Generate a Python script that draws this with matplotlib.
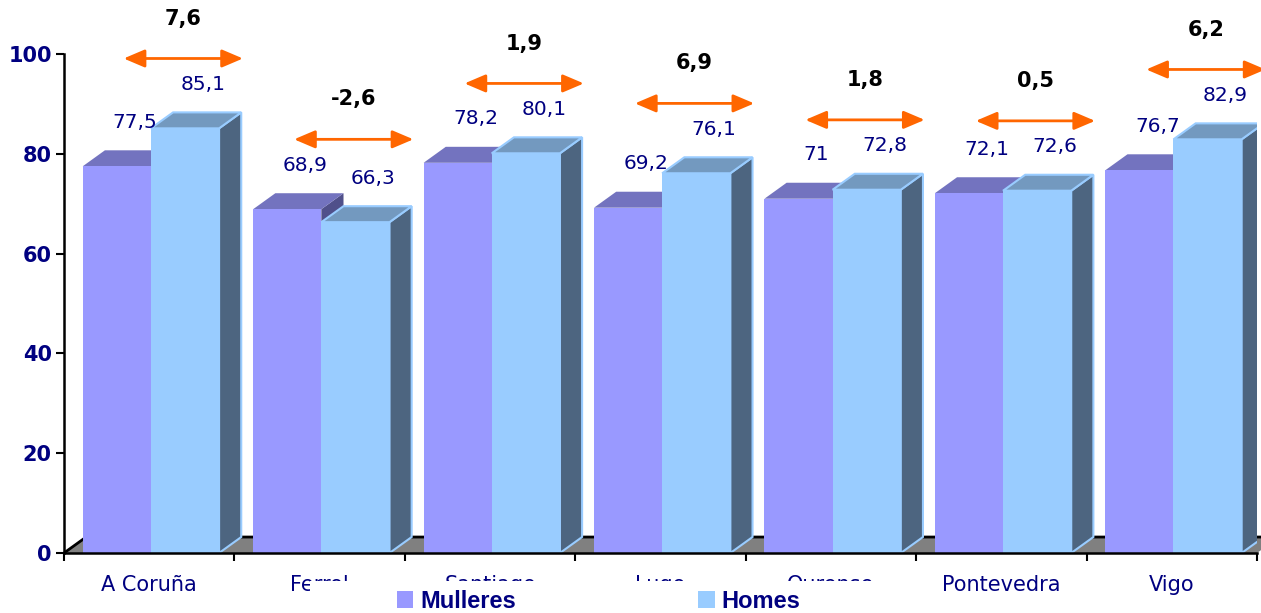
import numpy as np
import matplotlib.pyplot as plt
from matplotlib.patches import Polygon, Rectangle, FancyArrowPatch

# ----------------------
# Datos
# ----------------------
cidades = ["A Coruña", "Ferrol", "Santiago", "Lugo", "Ourense", "Pontevedra", "Vigo"]
mulleres = [77.5, 68.9, 78.2, 69.2, 71, 72.1, 76.7]
homes = [85.1, 66.3, 80.1, 76.1, 72.8, 72.6, 82.9]
yticks = [0, 20, 40, 60, 80, 100]


def fmt(v):
    return f"{round(v, 1):g}".replace(".", ",")


W, H = 1261, 613
fig = plt.figure(figsize=(W / 100, H / 100), dpi=100)
ax = fig.add_axes([64 / W, 60 / H, 1193 / W, 499 / H])
ax.set_xlim(-0.5, len(cidades) - 0.5)
ax.set_ylim(0, 100)

navy = "#000080"
dx, dy = 0.13, 3.2   # profundidade do efecto 3D
bw = 0.40
x = np.arange(len(cidades))
xm = x - 0.19
xh = x + 0.21

# ----------------------
# Chan gris
# ----------------------
x_end = len(cidades) - 0.5
ax.add_patch(Polygon([(-0.5, 0), (x_end, 0), (x_end + dx, dy), (-0.5 + dx, dy)],
                     closed=True, fc="#808080", ec="none", zorder=1, clip_on=False))
ax.plot([-0.5, -0.5 + dx, x_end + dx], [0, dy, dy], color="black", lw=2,
        zorder=1.1, clip_on=False, solid_capstyle="butt")


# ----------------------
# Barras 3D
# ----------------------
def caras(xc, v, top, side, edge, lw, z):
    x0, x1 = xc - bw / 2, xc + bw / 2
    ax.add_patch(Polygon([(x1, 0), (x1 + dx, dy), (x1 + dx, v + dy), (x1, v)],
                         fc=side, ec=edge, lw=lw, zorder=z, joinstyle="miter"))
    ax.add_patch(Polygon([(x0, v), (x1, v), (x1 + dx, v + dy), (x0 + dx, v + dy)],
                         fc=top, ec=edge, lw=lw, zorder=z + 0.1, joinstyle="miter"))


for i in range(len(cidades)):
    caras(xm[i], mulleres[i], "#7373BF", "#50508A", "none", 0, 2)
    caras(xh[i], homes[i], "#7399BF", "#4D6580", "#99CCFF", 1.5, 3)

bm = ax.bar(xm, mulleres, bw, color="#9999FF", linewidth=0, zorder=2.3, label="Mulleres")
bh = ax.bar(xh, homes, bw, color="#99CCFF", linewidth=0, zorder=3.3, label="Homes")

# Etiquetas de valores
for i in range(len(cidades)):
    ax.text(xm[i] + 0.105, mulleres[i] + 8.8, fmt(mulleres[i]), ha="center", va="center",
            color=navy, fontsize=14.5, zorder=6)
    ax.text(xh[i] + 0.105, homes[i] + 8.8, fmt(homes[i]), ha="center", va="center",
            color=navy, fontsize=14.5, zorder=6)

# ----------------------
# Frechas de diferenza
# ----------------------
for i in range(len(cidades)):
    dif = homes[i] - mulleres[i]
    ya = max(mulleres[i], homes[i]) + 14
    xc = x[i] + 0.2
    arr = FancyArrowPatch((xc - 0.35, ya), (xc + 0.35, ya),
                          arrowstyle="<|-|>,head_length=0.4,head_width=0.17",
                          mutation_scale=32, color="#FF6600", lw=2,
                          shrinkA=0, shrinkB=0, clip_on=False, zorder=7)
    ax.add_patch(arr)
    ax.text(xc, ya + 8, fmt(dif), ha="center", va="center", fontsize=15,
            fontweight="bold", color="black", clip_on=False, zorder=7)

# ----------------------
# Eixos
# ----------------------
for s in ["top", "right"]:
    ax.spines[s].set_visible(False)
for s in ["left", "bottom"]:
    ax.spines[s].set_linewidth(1.8)
    ax.spines[s].set_zorder(8)

ax.set_yticks(yticks)
ax.tick_params(axis="y", length=5.8, width=1.5, pad=3, labelsize=15, labelcolor=navy)
for lbl in ax.get_yticklabels():
    lbl.set_fontweight("bold")

bordes = np.arange(-0.5, len(cidades), 1)
ax.set_xticks(bordes, [""] * len(bordes))
ax.set_xticks(x, cidades, minor=True)
ax.tick_params(axis="x", which="major", length=5.8, width=1.5)
ax.tick_params(axis="x", which="minor", length=0, pad=16, labelsize=15, labelcolor=navy)

# ----------------------
# Lenda
# ----------------------
fig.add_artist(Rectangle((310 / W, 0), 595 / W, 32 / H, transform=fig.transFigure,
                         fc="white", ec="none", zorder=1))
fig.legend(handles=[bm, bh], labels=["Mulleres", "Homes"], loc="center left",
           bbox_to_anchor=(385 / W, 12 / H), ncol=2, frameon=False, borderpad=0,
           handlelength=0.7, handleheight=0.7, handletextpad=0.3, columnspacing=7.7,
           prop=dict(family="Liberation Sans", weight="bold", size=17), labelcolor=navy)

fig.savefig("out.png", dpi=100)
